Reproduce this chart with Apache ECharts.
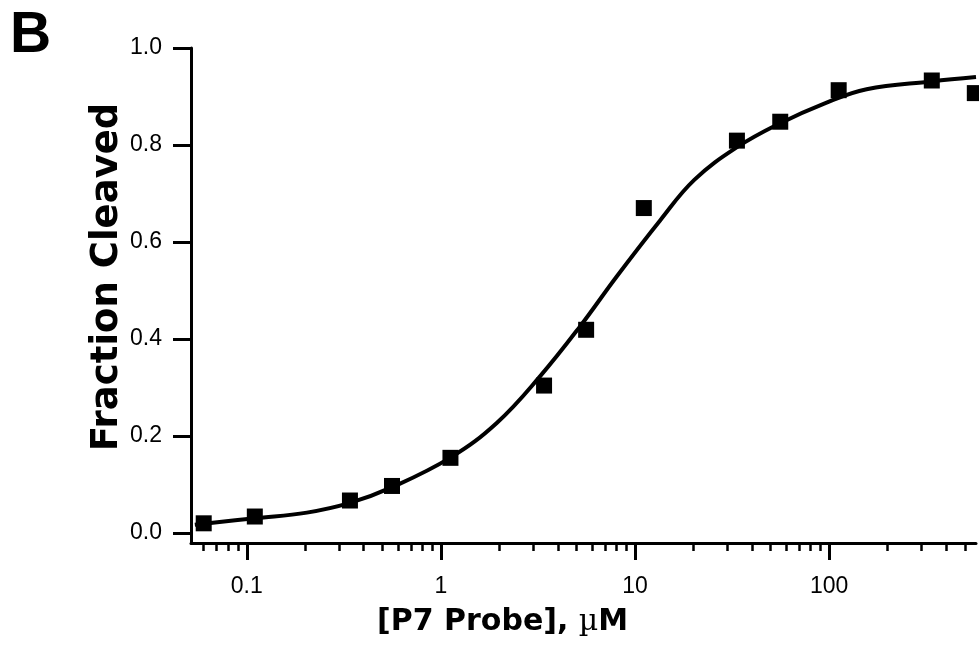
<!DOCTYPE html>
<html><head><meta charset="utf-8">
<script src="https://cdn.jsdelivr.net/npm/echarts@6/dist/echarts.min.js"></script>
<style>html,body{margin:0;padding:0;background:#fff}#c{width:979px;height:647px}</style>
</head><body><div id="c"></div>
<script>
// Measured data points
const conc = [0.06, 0.11, 0.34, 0.56, 1.12, 3.4, 5.6, 11.1, 33.5, 56, 112, 338, 563];
const fraction = [0.020, 0.034, 0.067, 0.097, 0.155, 0.304, 0.419, 0.670, 0.809, 0.848, 0.913, 0.933, 0.907];
// Fitted curve
const fitX = [0.054, 0.11, 0.204, 0.34, 0.565, 1.125, 1.94, 3.24, 5.21, 8.05, 13.5, 20.2, 33.4, 56, 95, 156, 338, 571];
const fitY = [0.017, 0.0305, 0.042, 0.062, 0.095, 0.156, 0.227, 0.323, 0.426, 0.529, 0.645, 0.728, 0.795, 0.845, 0.886, 0.915, 0.931, 0.940];
// Tick labels
const xMajorTicks = [0.1, 1, 10, 100];
const xMinorTicks = [0.06, 0.07, 0.08, 0.09, 0.2, 0.3, 0.4, 0.5, 0.6, 0.7, 0.8, 0.9, 2, 3, 4, 5, 6, 7, 8, 9, 20, 30, 40, 50, 60, 70, 80, 90, 200, 300, 400, 500];
const yTicks = [0, 0.2, 0.4, 0.6, 0.8, 1.0];
const xTitle = '[P7 Probe], ';
const xUnit = 'µ';
const xUnit2 = 'M';
const yTitle = 'Fraction Cleaved';
const panel = 'B';

const chart = echarts.init(document.getElementById('c'), null, {renderer: 'canvas'});
const labelFont = {color: '#000', fontFamily: 'Liberation Sans', fontSize: 23};
const xMin = 0.0516, xMax = 571;
chart.setOption({
  animation: false,
  backgroundColor: '#fff',
  grid: {left: 191, right: 3, top: 48, bottom: 104},
  xAxis: [
    {
      type: 'log', min: xMin, max: xMax, position: 'bottom',
      axisLine: {show: true, onZero: false, lineStyle: {color: '#000', width: 3}},
      axisTick: {show: true, customValues: xMajorTicks, length: 17, lineStyle: {color: '#000', width: 3}},
      axisLabel: Object.assign({customValues: xMajorTicks, margin: 32, formatter: v => String(v)}, labelFont),
      splitLine: {show: false}
    },
    {
      type: 'log', min: xMin, max: xMax, position: 'bottom',
      axisLine: {show: false, onZero: false},
      axisTick: {show: true, customValues: xMinorTicks, length: 8, lineStyle: {color: '#000', width: 2.5}},
      axisLabel: {show: false},
      splitLine: {show: false}
    }
  ],
  yAxis: {
    type: 'value', min: -0.0206, max: 1.0,
    axisLine: {show: true, onZero: false, lineStyle: {color: '#000', width: 3}},
    axisTick: {show: true, customValues: yTicks, length: 18, lineStyle: {color: '#000', width: 3}},
    axisLabel: Object.assign({customValues: yTicks, margin: 29, formatter: v => v.toFixed(1)}, labelFont),
    splitLine: {show: false}
  },
  graphic: [
    {type: 'text', left: 10, top: 8, style: {text: panel, font: 'bold 57px "Liberation Sans"', fill: '#000'}},
    {type: 'text', x: 377, y: 622, style: {
      text: '{b|' + xTitle + '}{m|' + xUnit + '}{b|' + xUnit2 + '}',
      verticalAlign: 'middle', align: 'left',
      rich: {
        b: {fontFamily: 'DejaVu Sans', fontWeight: 'bold', fontSize: 30, fill: '#000'},
        m: {fontFamily: 'DejaVu Serif', fontWeight: 'normal', fontSize: 30, fill: '#000'}
      }
    }},
    {type: 'text', x: 107, y: 277, rotation: Math.PI / 2, style: {
      text: yTitle, font: 'bold 37px "DejaVu Sans"', fill: '#000', align: 'center', verticalAlign: 'middle'
    }}
  ],
  series: [
    {
      type: 'line', xAxisIndex: 0, yAxisIndex: 0,
      data: fitX.map((x, i) => [x, fitY[i]]),
      smooth: 0.4, showSymbol: false, symbol: 'none',
      lineStyle: {color: '#000', width: 4}, z: 2
    },
    {
      type: 'scatter', xAxisIndex: 0, yAxisIndex: 0,
      data: conc.map((x, i) => [x, fraction[i]]),
      symbol: 'rect', symbolSize: 16, clip: false,
      itemStyle: {color: '#000', opacity: 1}, z: 3
    }
  ]
});
</script>
</body></html>
